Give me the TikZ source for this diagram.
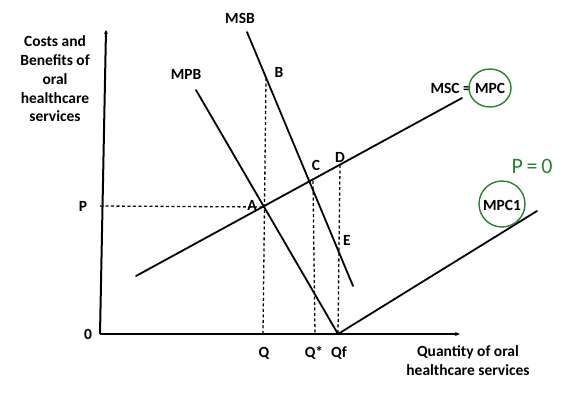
\documentclass[tikz,border=0pt]{standalone}
\usepackage{fontspec}
\setmainfont{Carlito}
\usetikzlibrary{arrows.meta}
\definecolor{pen}{RGB}{40,130,50}
\begin{document}
\begin{tikzpicture}[x=1pt,y=-1pt,
  curve/.style={line width=1.8pt,line cap=round},
  axis/.style={line width=2pt},
  guide/.style={line width=1.3pt,dash pattern=on 3pt off 2.5pt},
  lbl/.style={font=\fontsize{15.5}{18.8}\selectfont\bfseries,inner sep=0pt},
]
\useasboundingbox (0,0) rectangle (582,392);
% axes
\coordinate (O) at (100,334);
\coordinate (ytop) at (106,30);
\coordinate (xend) at (460,334);
\draw[axis,-{Stealth[length=4pt,width=4pt]}] (O) -- (ytop);
\draw[axis,-{Stealth[length=5pt,width=4pt]}] (O) -- (xend);
% key points
\coordinate (A) at (265,207);
\coordinate (B) at (266,78);
\coordinate (C) at (313,181);
\coordinate (D) at (340,165);
\coordinate (Qf) at (338,334);
\coordinate (Q) at (263,334);
\coordinate (Qs) at (315,334);
\coordinate (Py) at (100,206);
% curves
\coordinate (msc0) at (136,276);
\coordinate (msc1) at (462,98);
\draw[curve] (msc0) -- (msc1);
\coordinate (mpb0) at (196,90);
\draw[curve] (mpb0) -- (Qf);
\coordinate (msb0) at (247,32);
\coordinate (msb1) at (353,286);
\draw[curve] (msb0) -- (msb1);
\coordinate (mpc1) at (537,211);
\draw[curve] (Qf) -- (mpc1);
% guides
\draw[guide] (Py) -- (A);
\draw[guide] (B) -- (Q);
\draw[guide] (C) -- (Qs);
\draw[guide] (D) -- (Qf);
% labels
\node[lbl,align=center] (ytitle) at (55,79) {Costs and\\Benefits of\\oral\\healthcare\\services};
\node[lbl,align=center] (xtitle) at (468,361) {Quantity of oral\\healthcare services};
\node[lbl] (lO) at (88,334) {0};
\node[lbl] (lP) at (83,206) {P};
\node[lbl] (lQ) at (264,353) {Q};
\node[lbl] (lQs) at (314,353) {Q*};
\node[lbl] (lQf) at (339,353) {Qf};
\node[lbl] (lMSB) at (240,18) {MSB};
\node[lbl] (lMPB) at (186,74) {MPB};
\node[lbl] (lB) at (279,72) {B};
\node[lbl] (lA) at (252,205) {A};
\node[lbl] (lC) at (316,165) {C};
\node[lbl] (lD) at (340,157) {D};
\node[lbl] (lE) at (347,240) {E};
\node[lbl,anchor=east] (lMSC) at (471,88) {MSC =};
\node[lbl] (lMPC) at (490,88) {MPC};
\node[lbl] (lMPC1) at (502,205) {MPC1};
\draw[draw=pen,line width=1.4pt] (lMPC) ellipse (21pt and 19pt);
\draw[draw=pen,line width=1.4pt] (502,204) ellipse (23pt and 23pt);
\node[text=pen,font=\fontsize{22}{22}\selectfont,inner sep=0pt] (p0) at (532,166) {P\,=\,0};
\end{tikzpicture}
\end{document}
